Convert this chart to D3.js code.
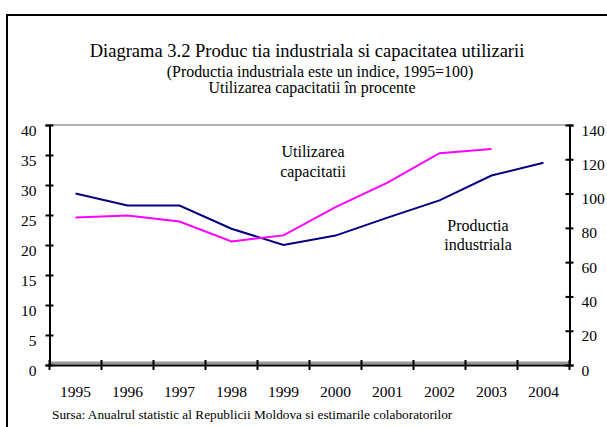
<!DOCTYPE html>
<html>
<head>
<meta charset="utf-8">
<script src="https://cdn.jsdelivr.net/npm/d3@7"></script>
<style>
  body { margin: 0; background: #fff; }
  svg { display: block; }
  svg text { font-family: "Liberation Serif", "Times New Roman", serif !important; fill: #000; }
  .domain { stroke: #000; stroke-width: 2px; }
  .tick line { stroke: #000; stroke-width: 2px; }
  .tick text { font-size: 15.5px; }
</style>
</head>
<body>
<svg id="chart" width="607" height="427"></svg>
<script>
var years = ['1995', '1996', '1997', '1998', '1999', '2000', '2001', '2002', '2003', '2004'];
// Productia industriala (indice, 1995=100) - axa dreapta
var productie = [100, 93, 93, 79.5, 70, 75.5, 86, 96, 110.5, 118];
// Utilizarea capacitatii (%) - axa stanga
var utilizare = [24.6, 24.9, 23.9, 20.6, 21.6, 26.3, 30.4, 35.3, 36];
var leftTicks = [0, 5, 10, 15, 20, 25, 30, 35, 40];
var rightTicks = [0, 20, 40, 60, 80, 100, 120, 140];

var svg = d3.select('#chart');

var plot = {left: 49.5, right: 569.5, top: 125, bottom: 365};

var x = d3.scaleBand().domain(years).range([plot.left, plot.right]);
var yL = d3.scaleLinear().domain([0, 40]).range([plot.bottom, plot.top]);
var yR = d3.scaleLinear().domain([0, 140]).range([plot.bottom, plot.top]);

// cadrul exterior (iese din imagine in dreapta si jos)
svg.append('rect')
  .attr('x', 7).attr('y', 15)
  .attr('width', 700).attr('height', 500)
  .attr('fill', 'none').attr('stroke', '#000').attr('stroke-width', 2);

// titluri
var titles = [
  {t: 'Diagrama 3.2 Produc tia industriala si capacitatea utilizarii', x: 307, y: 57, s: 18.5},
  {t: '(Productia industriala este un indice, 1995=100)', x: 320, y: 77, s: 15.9},
  {t: 'Utilizarea capacitatii în procente', x: 312, y: 93, s: 15.9}
];
svg.selectAll('.title').data(titles).enter().append('text')
  .attr('class', 'title')
  .attr('x', d => d.x).attr('y', d => d.y)
  .attr('text-anchor', 'middle')
  .style('font-size', d => d.s + 'px')
  .text(d => d.t);

// linii gri ale zonei de desen
svg.append('line')
  .attr('x1', plot.left).attr('x2', plot.right)
  .attr('y1', plot.top).attr('y2', plot.top)
  .attr('stroke', '#999').attr('stroke-width', 1.5);
svg.append('line')
  .attr('x1', plot.left).attr('x2', plot.right)
  .attr('y1', plot.bottom - 2).attr('y2', plot.bottom - 2)
  .attr('stroke', '#999').attr('stroke-width', 3);

// axe
var gL = svg.append('g')
  .attr('transform', 'translate(' + plot.left + ',0)')
  .call(d3.axisLeft(yL).tickValues(leftTicks).tickSizeOuter(0).tickSize(4));
gL.selectAll('.tick line').attr('x1', 4);
gL.selectAll('.tick text').attr('dy', '0.65em').attr('x', -13);

var gR = svg.append('g')
  .attr('transform', 'translate(' + plot.right + ',0)')
  .call(d3.axisRight(yR).tickValues(rightTicks).tickSizeOuter(0).tickSize(4));
gR.selectAll('.tick line').attr('x1', -4);
gR.selectAll('.tick text').attr('dy', '0.65em').attr('x', 12);

var gX = svg.append('g')
  .attr('transform', 'translate(0,' + plot.bottom + ')')
  .call(d3.axisBottom(x).tickSize(0).tickSizeOuter(0));
gX.selectAll('.tick text').attr('y', 32).attr('dy', null);
// liniute intre ani
gX.selectAll('.sep').data(years.concat(['end'])).enter().append('line')
  .attr('class', 'sep')
  .attr('x1', (d, i) => plot.left + i * x.step())
  .attr('x2', (d, i) => plot.left + i * x.step())
  .attr('y1', -5).attr('y2', 5)
  .attr('stroke', '#000').attr('stroke-width', 2);

[gL, gR, gX].forEach(g => g.attr('font-family', null).attr('font-size', null));

// serii
var cx = d => x(d) + x.bandwidth() / 2;

svg.append('path')
  .datum(productie)
  .attr('fill', 'none')
  .attr('stroke', '#000080')
  .attr('stroke-width', 2)
  .attr('d', d3.line().x((d, i) => cx(years[i])).y(d => yR(d)));

svg.append('path')
  .datum(utilizare)
  .attr('fill', 'none')
  .attr('stroke', '#ff00ff')
  .attr('stroke-width', 2)
  .attr('d', d3.line().x((d, i) => cx(years[i])).y(d => yL(d)));

// etichete in grafic
var labels = [
  {t: 'Utilizarea', x: 313, y: 157},
  {t: 'capacitatii', x: 313, y: 177},
  {t: 'Productia', x: 478, y: 231},
  {t: 'industriala', x: 478, y: 250}
];
svg.selectAll('.lbl').data(labels).enter().append('text')
  .attr('class', 'lbl')
  .attr('x', d => d.x).attr('y', d => d.y)
  .attr('text-anchor', 'middle')
  .style('font-size', '16px')
  .text(d => d.t);

// sursa
svg.append('text')
  .attr('x', 52).attr('y', 419)
  .style('font-size', '13.3px')
  .text('Sursa: Anualrul statistic al Republicii Moldova si estimarile colaboratorilor');
</script>
</body>
</html>
